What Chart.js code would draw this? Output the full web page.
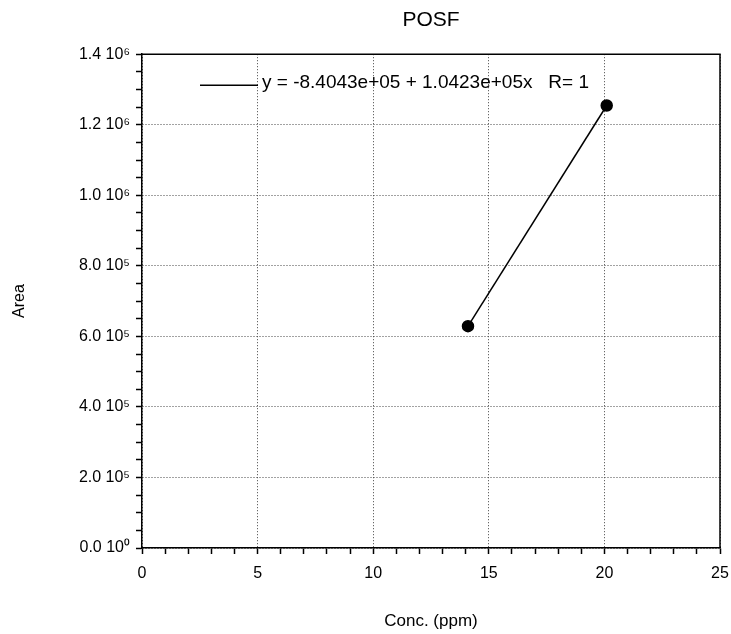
<!DOCTYPE html>
<html><head><meta charset="utf-8">
<script src="https://cdn.jsdelivr.net/npm/chart.js@4/dist/chart.umd.min.js"></script>
<style>html,body{margin:0;padding:0;background:#fff}#wrap{width:731px;height:634px;position:relative}</style>
</head><body><div id="wrap"><canvas id="c"></canvas></div>
<script>
const chartTitle = 'POSF';
const xAxisTitle = 'Conc. (ppm)';
const yAxisTitle = 'Area';
const fitLabel = 'y = -8.4043e+05 + 1.0423e+05x   R= 1';
const concentrations = [14.1, 20.1];
const areas = [629000, 1254500];
const xTickValues = [0, 5, 10, 15, 20, 25];
const xTickLabels = ['0', '5', '10', '15', '20', '25'];
const yTickValues = [0, 200000, 400000, 600000, 800000, 1000000, 1200000, 1400000];
const yTickLabels = ['0.0 10\u2070', '2.0 10\u2075', '4.0 10\u2075', '6.0 10\u2075', '8.0 10\u2075', '1.0 10\u2076', '1.2 10\u2076', '1.4 10\u2076'];

const FONT = "'Liberation Sans', Arial, Helvetica, sans-serif";

const points = concentrations.map((x, i) => ({x: x, y: areas[i]}));

const framePlugin = {
  id: 'frameAndLegend',
  afterDraw(chart) {
    const {ctx, chartArea: a} = chart;
    ctx.save();
    ctx.strokeStyle = '#000';
    ctx.lineWidth = 1.5;
    ctx.setLineDash([]);
    ctx.beginPath();
    ctx.moveTo(a.left, a.top);
    ctx.lineTo(a.right, a.top);
    ctx.lineTo(a.right, a.bottom);
    ctx.stroke();
    // legend
    const ly = a.top + 31;
    ctx.lineWidth = 1.5;
    ctx.beginPath();
    ctx.moveTo(a.left + 58, ly);
    ctx.lineTo(a.left + 116, ly);
    ctx.stroke();
    ctx.fillStyle = '#000';
    ctx.font = '19px ' + FONT;
    ctx.textBaseline = 'middle';
    ctx.textAlign = 'left';
    ctx.fillText(chart.data.datasets[0].label, a.left + 120, a.top + 29);
    ctx.restore();
  }
};

const gridColor = (ctx) => {
  const v = ctx.tick ? ctx.tick.value : null;
  return v !== null && (xTickValues.includes(v) || yTickValues.includes(v)) ? '#444' : 'rgba(0,0,0,0)';
};

new Chart(document.getElementById('c'), {
  type: 'scatter',
  data: {
    datasets: [{
      label: fitLabel,
      data: points,
      showLine: true,
      borderColor: '#000',
      backgroundColor: '#000',
      borderWidth: 1.5,
      pointRadius: 5.5,
      pointHoverRadius: 5.5,
      pointBackgroundColor: '#000',
      pointBorderColor: '#000'
    }]
  },
  options: {
    responsive: true,
    maintainAspectRatio: false,
    animation: false,
    events: [],
    layout: {padding: {left: 0, right: 11, top: 0, bottom: 0}},
    plugins: {
      legend: {display: false},
      tooltip: {enabled: false},
      title: {
        display: true,
        text: chartTitle,
        fullSize: false,
        color: '#000',
        font: {family: FONT, size: 21, weight: 'normal'},
        padding: {top: 8, bottom: 21}
      }
    },
    scales: {
      x: {
        type: 'linear',
        min: 0,
        max: 25,
        afterFit: (s) => { s.height = 86; s.paddingRight = 0; s.paddingLeft = 0; },
        ticks: {
          stepSize: 1,
          autoSkip: false,
          maxRotation: 0,
          color: '#000',
          padding: 10,
          font: {family: FONT, size: 16},
          callback: (v) => { const i = xTickValues.indexOf(v); return i >= 0 ? xTickLabels[i] : ''; }
        },
        grid: {
          color: gridColor,
          lineWidth: 1,
          tickColor: '#000',
          tickLength: 6,
          tickWidth: 1.5,
          borderDash: [1, 2]
        },
        border: {display: true, color: '#000', width: 1.5, dash: [1, 2]},
        title: {
          display: true,
          text: xAxisTitle,
          color: '#000',
          font: {family: FONT, size: 17},
          padding: {top: 0, bottom: 2}
        }
      },
      y: {
        type: 'linear',
        min: 0,
        max: 1400000,
        afterFit: (s) => { s.width = 142; },
        ticks: {
          stepSize: 50000,
          autoSkip: false,
          color: '#000',
          padding: 6,
          font: {family: FONT, size: 16},
          callback: (v) => { const i = yTickValues.indexOf(v); return i >= 0 ? yTickLabels[i] : ''; }
        },
        grid: {
          color: gridColor,
          lineWidth: 1,
          tickColor: '#000',
          tickLength: 6,
          tickWidth: 1.5,
          borderDash: [1, 2]
        },
        border: {display: true, color: '#000', width: 1.5, dash: [1, 2]},
        title: {
          display: true,
          text: yAxisTitle,
          color: '#000',
          font: {family: FONT, size: 16},
          padding: {top: 10, bottom: 0}
        }
      }
    }
  },
  plugins: [framePlugin]
});
</script>
</body></html>
